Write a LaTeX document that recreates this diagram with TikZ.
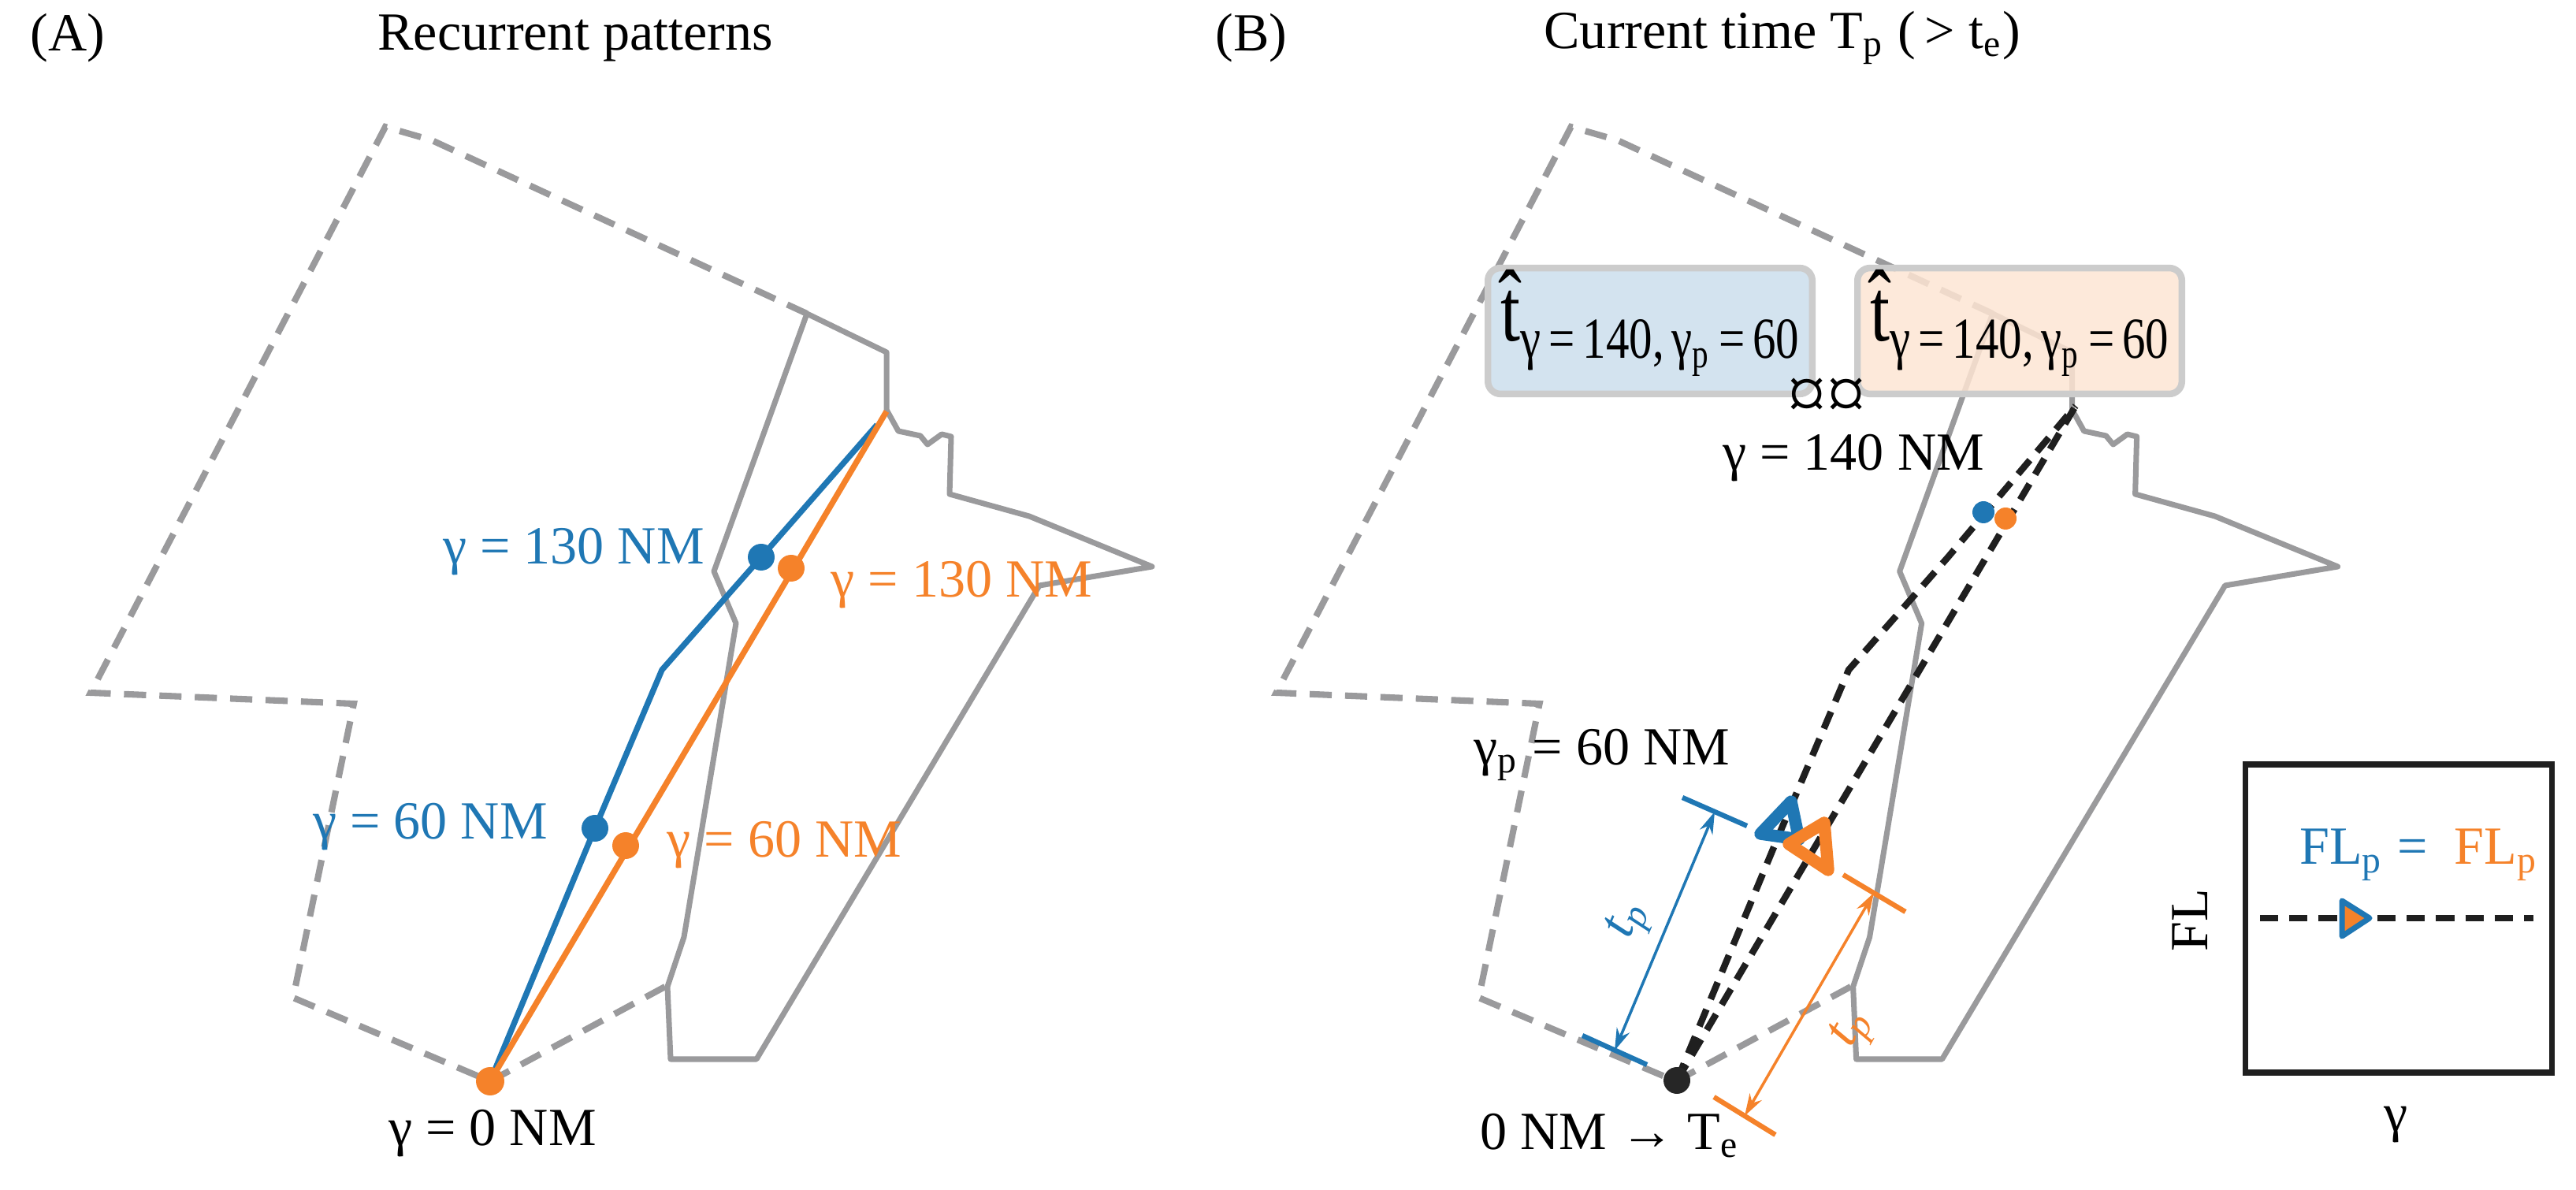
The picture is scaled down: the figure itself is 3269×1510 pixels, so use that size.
\documentclass[tikz,border=0pt]{standalone}
\usepackage{fontspec}
\usepackage{graphicx}
\setmainfont{Liberation Serif}
\usetikzlibrary{arrows.meta}
\definecolor{cb}{HTML}{1F77B4}
\definecolor{co}{HTML}{F5822A}
\definecolor{cg}{HTML}{9A9A9C}
\definecolor{bfill}{HTML}{D3E3EF}
\definecolor{ofill}{HTML}{FDE5D3}
\tikzset{
 bd/.style={cg,line width=1.15pt,dash pattern=on 4pt off 2.4pt},
 bs/.style={cg,line width=1pt,line join=round},
 lbl/.style={font=\fontsize{9.7}{11}\selectfont,inner sep=1pt},
 path/.style={line width=1.05pt,line join=round},
 bk/.style={black!88,line width=1.2pt,dash pattern=on 3.3pt off 2pt},
 dot/.style={circle,inner sep=0pt,minimum size=0.17cm},
 dim/.style={line width=0.5pt,{Stealth[length=4pt,width=2.5pt]}-{Stealth[length=4pt,width=2.5pt]}},
 tick/.style={line width=0.9pt},
 tbox/.style={draw=black!20,line width=1.2pt,rounded corners=0.08cm},
 tt/.style={inner sep=0pt},
}
\newcommand{\airspace}{%
 \draw[bd] (844,1252) -- (622,1372) -- (372,1266) -- (449,893) -- (115,879) -- (489,161) -- (548,178) -- (1024,398);
 \draw[bs] (1024,398) -- (1125,447) -- (1125,520) -- (1140,547) -- (1168,553) -- (1177,564) -- (1195,551) -- (1207,554) -- (1205,627) -- (1306,655) -- (1462,719) -- (1319,743) -- (960,1344) -- (851,1344) -- (847,1252) -- (868,1189) -- (934,791) -- (906,725) -- cycle;
}
\newcommand{\thatlbl}{\scalebox{0.8}[1]{{\fontsize{16}{17}\selectfont \^{t}}\raisebox{-0.7ex}{\fontsize{10.5}{11}\selectfont γ\,=\,140,\,γ\textsubscript{p}\,=\,60}}}
\begin{document}
\begin{tikzpicture}[x=0.005cm,y=-0.005cm]
\useasboundingbox (0,0) rectangle (3269,1510);
% ---------- Panel A
\node[lbl,anchor=west] (tA) at (30,48) {(A)};
\node[lbl] (titA) at (730,48) {Recurrent patterns};
\airspace
\draw[path,cb] (622,1372) -- (755,1051) -- (840,850) -- (966,707) -- (1113,539);
\draw[path,co] (622,1372) -- (1125,522);
\node[dot,fill=cb] (b60) at (755,1051) {};
\node[dot,fill=cb] (b130) at (966,707) {};
\node[dot,fill=co] (o60) at (794,1073) {};
\node[dot,fill=co] (o130) at (1004,721) {};
\node[dot,fill=co,minimum size=0.18cm] (o0) at (622,1372) {};
\node[lbl,cb,anchor=east] (lb130) at (902,700) {γ = 130 NM};
\node[lbl,cb,anchor=east] (lb60) at (703,1049) {γ = 60 NM};
\node[lbl,co,anchor=west] (lo130) at (1046,742) {γ = 130 NM};
\node[lbl,co,anchor=west] (lo60) at (838,1072) {γ = 60 NM};
\node[lbl] (l0) at (625,1438) {γ = 0 NM};
% ---------- Panel B
\node[lbl,anchor=west] (tB) at (1534,48) {(B)};
\node[lbl] (titB) at (2262,48) {Current time T\textsubscript{p} (\,> t\textsubscript{e})};
\begin{scope}[xshift=7.53cm]
\airspace
\end{scope}
\coordinate (s) at (2128,1371);
\coordinate (e) at (2634,515);
\draw[bk] (s) -- (2261,1051) -- (2346,850) -- (2472,707) -- (e);
\draw[bk] (s) -- (e);
\node[dot,fill=cb,minimum size=0.14cm] (b140) at (2517,650) {};
\node[dot,fill=co,minimum size=0.14cm] (o140) at (2545,658) {};
\node[dot,fill=black!85,minimum size=0.17cm] (te) at (s) {};
\draw[cb,line width=2.2pt,line join=round] (2273,1017) -- (2234,1058) -- (2283,1065) -- cycle;
\draw[co,line width=2.2pt,line join=round] (2315,1044) -- (2270,1071) -- (2320,1104) -- cycle;
% dimension markers
\coordinate (bt1) at (2135,1012); \coordinate (bt2) at (2217,1048);
\coordinate (bb1) at (2008,1314); \coordinate (bb2) at (2090,1351);
\draw[cb,tick] (bt1) -- (bt2);
\draw[cb,tick] (bb1) -- (bb2);
\coordinate (ba) at (2176,1030); \coordinate (bz) at (2049,1333);
\draw[cb,dim] (ba) -- (bz);
\node[cb,rotate=67,font=\fontsize{9.7}{11}\selectfont\itshape] (tpb) at (2068,1168) {t\textsubscript{p}};
\coordinate (ot1) at (2339,1110); \coordinate (ot2) at (2418,1157);
\coordinate (ob1) at (2175,1392); \coordinate (ob2) at (2253,1440);
\draw[co,tick] (ot1) -- (ot2);
\draw[co,tick] (ob1) -- (ob2);
\coordinate (oa) at (2378,1133); \coordinate (oz) at (2214,1416);
\draw[co,dim] (oa) -- (oz);
\node[co,rotate=60,font=\fontsize{9.7}{11}\selectfont\itshape] (tpo) at (2352,1306) {t\textsubscript{p}};
% boxes
\node[tbox,fill=bfill,minimum width=2.06cm,minimum height=0.8cm] (boxb) at (2094,420) {};
\node[tbox,fill=ofill,minimum width=2.06cm,minimum height=0.8cm,fill opacity=0.85] (boxo) at (2563,420) {};
\node[tt] (txb) at (2094,410) {\thatlbl};
\node[tt] (txo) at (2563,410) {\thatlbl};
\node[lbl,font=\fontsize{14}{15}\selectfont] (cur) at (2318,506) {\char"A4\char"A4};
\node[lbl] (l140) at (2352,581) {γ = 140 NM};
\node[lbl,anchor=west] (lp60) at (1862,958) {γ\textsubscript{p} = 60 NM};
\node[lbl,anchor=west] (lte) at (1870,1441) {0 NM \textrightarrow{} T\textsubscript{e}};
% inset
\draw[line width=1pt,black!88] (2849,970) rectangle (3238,1361);
\coordinate (il) at (2868,1165); \coordinate (ir) at (3215,1165);
\draw[bk] (il) -- (ir);
\draw[cb,fill=co,line width=1pt,line join=round] (2972,1143) -- (3007,1165) -- (2972,1188) -- cycle;
\node[lbl] (flp) at (3070,1085) {\textcolor{cb}{FL\textsubscript{p} =}\ \ \textcolor{co}{FL\textsubscript{p}}};
\node[lbl,rotate=90] (fl) at (2779,1168) {FL};
\node[lbl] (gam) at (3041,1427) {γ};
\end{tikzpicture}
\end{document}
